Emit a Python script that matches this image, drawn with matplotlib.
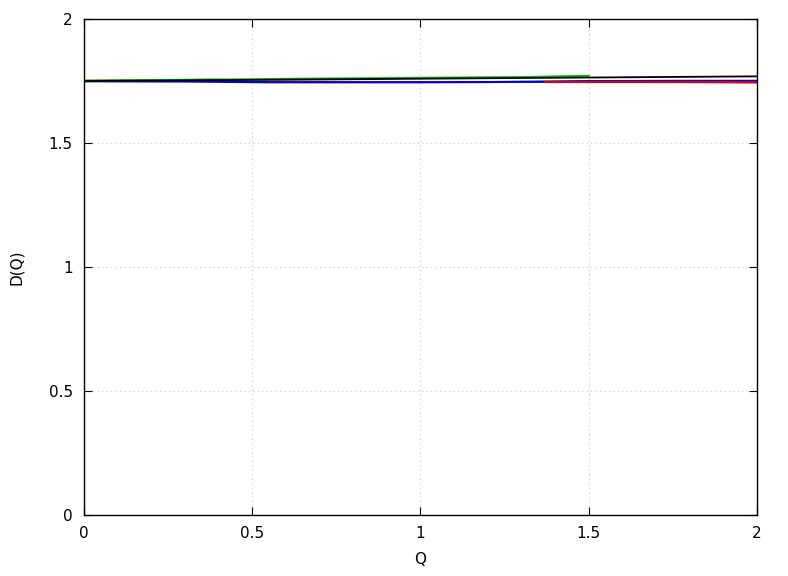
import numpy as np
import matplotlib
matplotlib.use("Agg")
import matplotlib.pyplot as plt
from matplotlib.ticker import FuncFormatter

# values
q_black = [0.0, 2.0]
d_black = [1.750, 1.769]
q_black2 = [0.0, 2.0]
d_black2 = [1.750, 1.744]

q_green = [0.0, 0.2, 0.4, 0.55, 0.7, 0.85, 1.0, 1.1, 1.2, 1.3, 1.38, 1.45, 1.5]
d_green = [1.751, 1.754, 1.756, 1.758, 1.760, 1.761, 1.763, 1.764, 1.765, 1.766, 1.768, 1.770, 1.771]

q_blue = [0.0, 0.3, 0.55, 0.8, 1.0, 1.2, 1.5, 1.8, 2.0]
d_blue = [1.749, 1.748, 1.745, 1.745, 1.745, 1.746, 1.750, 1.751, 1.751]

q_red1 = [0.0, 0.2, 0.4]
d_red1 = [1.751, 1.753, 1.755]
q_red2 = [0.55, 0.8, 1.0, 1.2]
d_red2 = [1.748, 1.748, 1.748, 1.748]
q_red3 = [1.37, 1.6, 1.8, 2.0]
d_red3 = [1.746, 1.746, 1.746, 1.745]

xticks = [0, 0.5, 1, 1.5, 2]
yticks = [0, 0.5, 1, 1.5, 2]

plt.rcParams["font.family"] = ["DejaVu Sans"]
plt.rcParams["font.size"] = 11

fig = plt.figure(figsize=(7.88, 5.76), dpi=100)
ax = fig.add_axes([0.1066, 0.1059, 0.854, 0.861])

ax.plot(q_black2, d_black2, color="black", lw=1.0)
ax.plot(q_red1, d_red1, color="#cc0000", lw=1.5)
ax.plot(q_red2, d_red2, color="#e00000", lw=1.5)
ax.plot(q_blue, d_blue, color="#0000e0", lw=1.5)
ax.plot(q_red3, d_red3, color="#e00000", lw=1.5)
ax.plot(q_green, d_green, color="#00c000", lw=1.5)
ax.plot(q_black, d_black, color="black", lw=1.3)

ax.set_xlim(0, 2)
ax.set_ylim(0, 2)
ax.set_xticks(xticks)
ax.set_yticks(yticks)
fmt = FuncFormatter(lambda v, p: ("%g" % v))
ax.xaxis.set_major_formatter(fmt)
ax.yaxis.set_major_formatter(fmt)
ax.tick_params(direction="in", top=True, right=True, length=6, pad=8)
ax.grid(True, color="#c8c8c8", linestyle=(0, (1, 3)), lw=0.8)
ax.set_xlabel("Q", labelpad=8)
ax.set_ylabel("D(Q)", labelpad=18)
for s in ax.spines.values():
    s.set_linewidth(1.0)

plt.savefig("out.png", dpi=100)
